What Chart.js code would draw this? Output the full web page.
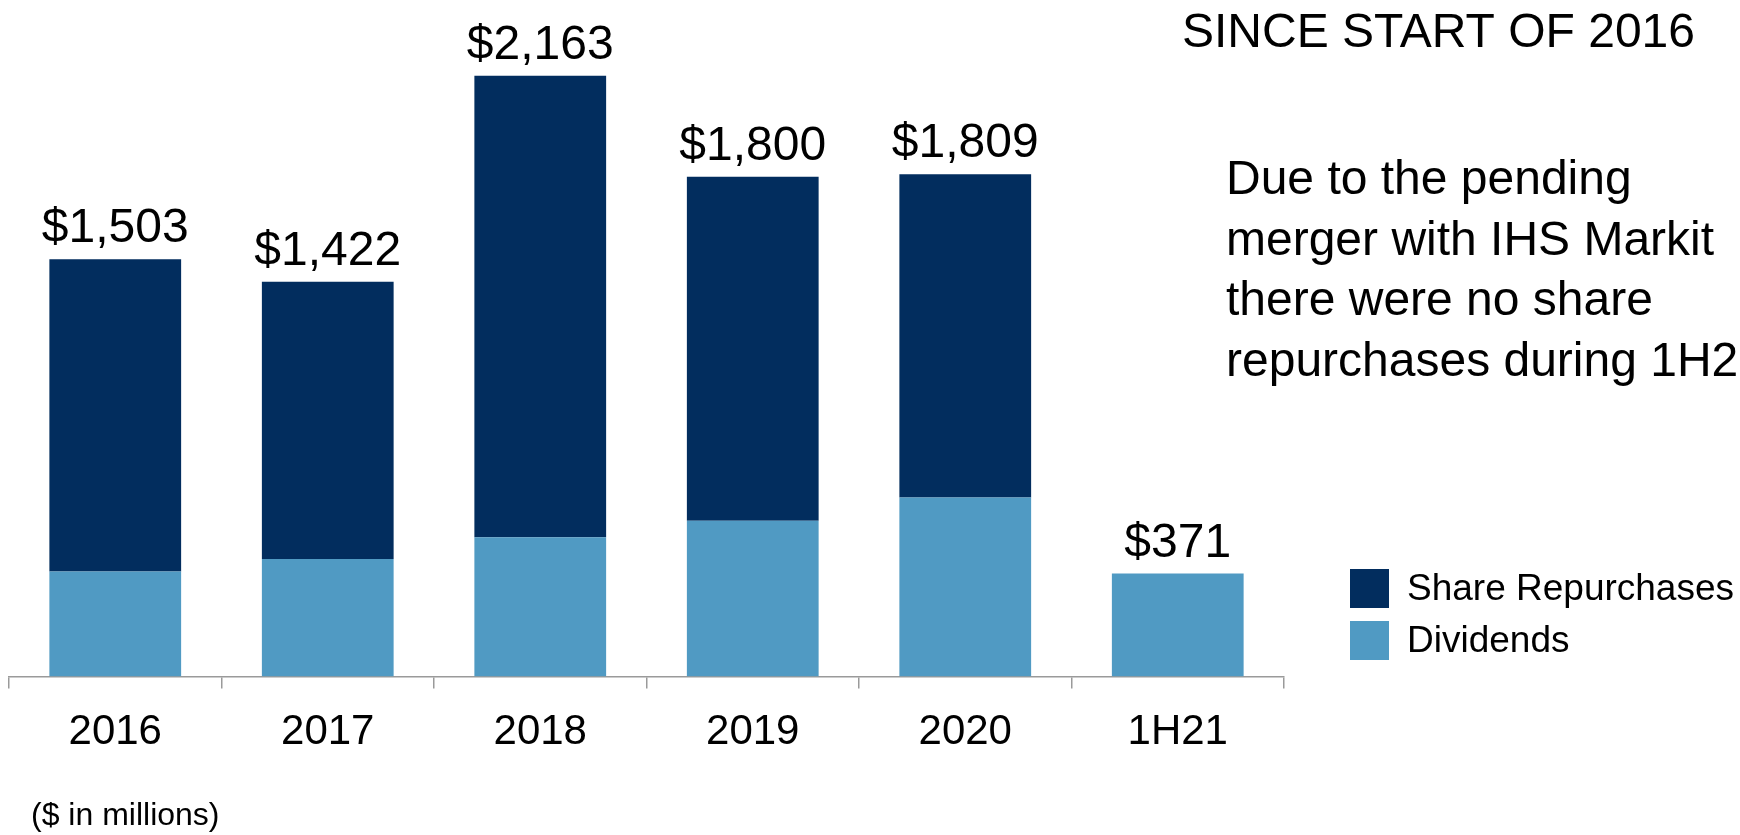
<!DOCTYPE html>
<html>
<head>
<meta charset="utf-8">
<script src="https://cdn.jsdelivr.net/npm/chart.js@4.4.1/dist/chart.umd.min.js"></script>
<style>
  html, body { margin: 0; padding: 0; background: #ffffff; }
  #wrap { width: 1740px; height: 835px; position: relative; }
</style>
</head>
<body>
<div id="wrap"><canvas id="c"></canvas></div>
<script>
// ---- data ----
const categories = ["2016", "2017", "2018", "2019", "2020", "1H21"];
const dividends = [378, 423, 502, 561, 645, 371];
const repurchases = [1125, 999, 1661, 1239, 1164, 0];
const seriesNames = ["Share Repurchases", "Dividends"];
const titleText = "SINCE START OF 2016";
const noteLines = ["Due to the pending", "merger with IHS Markit", "there were no share", "repurchases during 1H21"];
const footnote = "($ in millions)";

const NAVY = "#022D5E";
const LIGHT = "#509AC3";
const FONT = "'Liberation Sans', Arial, Helvetica, sans-serif";

const totals = categories.map((_, i) => dividends[i] + repurchases[i]);

const extras = {
  id: "extras",
  afterDraw(chart) {
    const ctx = chart.ctx;
    const x = chart.scales.x, y = chart.scales.y;
    ctx.save();
    ctx.fillStyle = "#000";
    // totals above bars
    ctx.font = "48px " + FONT;
    ctx.textAlign = "center";
    ctx.textBaseline = "middle";
    totals.forEach((t, i) => {
      const px = x.getPixelForValue(i);
      const py = y.getPixelForValue(t);
      ctx.fillText("$" + t.toLocaleString("en-US"), px, py - 30);
    });
    // title
    ctx.font = "48px " + FONT;
    ctx.textAlign = "right";
    ctx.fillText(titleText, 1695, 34);
    // note
    ctx.font = "48px " + FONT;
    ctx.textAlign = "left";
    noteLines.forEach((l, i) => ctx.fillText(l, 1226, 181 + i * 60.5));
    // legend
    const leg = [[seriesNames[0], NAVY, 569], [seriesNames[1], LIGHT, 621]];
    ctx.font = "37px " + FONT;
    leg.forEach(([name, col, top]) => {
      ctx.fillStyle = col;
      ctx.fillRect(1350, top, 39, 39);
      ctx.fillStyle = "#000";
      ctx.fillText(name, 1407, top + 21);
    });
    // footnote
    ctx.font = "32px " + FONT;
    ctx.fillText(footnote, 31, 816);
    ctx.restore();
  }
};

new Chart(document.getElementById("c"), {
  type: "bar",
  data: {
    labels: categories,
    datasets: [
      { label: seriesNames[1], data: dividends, backgroundColor: LIGHT, borderWidth: 0 },
      { label: seriesNames[0], data: repurchases, backgroundColor: NAVY, borderWidth: 0 }
    ]
  },
  options: {
    responsive: true,
    maintainAspectRatio: false,
    animation: false,
    categoryPercentage: 1,
    barPercentage: 0.62,
    layout: { padding: { left: 9, right: 456, top: 10, bottom: 58 } },
    plugins: { legend: { display: false }, tooltip: { enabled: false } },
    scales: {
      x: {
        stacked: true,
        grid: { offset: true, drawOnChartArea: false, drawTicks: true, tickLength: 12, color: "#9a9a9a", lineWidth: 1.5 },
        border: { display: true, color: "#9a9a9a", width: 1.5 },
        ticks: { color: "#000", font: { family: FONT, size: 42 }, padding: 19 }
      },
      y: {
        stacked: true,
        display: false,
        min: 0,
        max: 2400
      }
    }
  },
  plugins: [extras]
});
</script>
</body>
</html>
